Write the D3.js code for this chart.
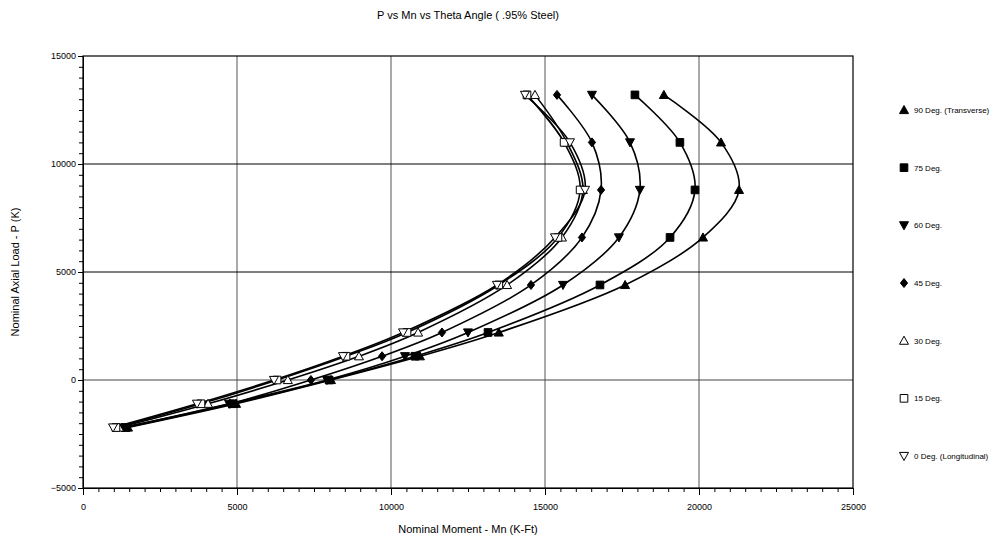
<!DOCTYPE html>
<html><head><meta charset="utf-8">
<script src="https://cdn.jsdelivr.net/npm/d3@7"></script>
<style>
body{margin:0;background:#fff;}
svg{display:block;}
text{font-family:"Liberation Sans Narrow","Liberation Sans",Arial,sans-serif;fill:#000;}
</style></head><body>
<svg id="c" width="999" height="537"></svg>
<script>
const title = "P vs Mn vs Theta Angle ( .95% Steel)";
const xLabel = "Nominal Moment - Mn (K-Ft)";
const yLabel = "Nominal Axial Load - P (K)";
const xTicks = [0, 5000, 10000, 15000, 20000, 25000];
const yTicks = [-5000, 0, 5000, 10000, 15000];
// axial load levels (K), shared by every series
const loads = [13200, 11000, 8800, 6600, 4400, 2200, 1100, 0, -1100, -2200];
// nominal moment (K-Ft) at each load level
const mn90 = [18860, 20715, 21300, 20130, 17600, 13500, 10940, 8050, 4970, 1460];
const mn75 = [17920, 19380, 19870, 19060, 16785, 13150, 10780, 7990, 4870, 1400];
const mn60 = [16525, 17760, 18080, 17400, 15585, 12500, 10455, 7920, 4740, 1330];
const mn45 = [15390, 16525, 16820, 16200, 14545, 11655, 9710, 7400, 4770, 1270];
const mn30 = [14675, 15710, 16230, 15550, 13770, 10880, 8960, 6650, 4060, 1170];
const mn15 = [14415, 15620, 16140, 15420, 13500, 10520, 8540, 6300, 3830, 1070];
const mn0  = [14350, 15810, 16300, 15325, 13440, 10390, 8440, 6200, 3700, 975];
const seriesNames = ["90 Deg. (Transverse)", "75 Deg.", "60 Deg.", "45 Deg.", "30 Deg.", "15 Deg.", "0 Deg. (Longitudinal)"];
const seriesData = [mn90, mn75, mn60, mn45, mn30, mn15, mn0];
const markerKinds = ["triUp", "square", "triDown", "diamond", "triUp", "square", "triDown"];
const markerFilled = [true, true, true, true, false, false, false];

const svg = d3.select("#c");
const L = 83, R = 853, T = 56, B = 488;
const x = d3.scaleLinear().domain([0, 25000]).range([L, R]);
const y = d3.scaleLinear().domain([-5000, 15000]).range([B, T]);

// grid lines
const g = svg.append("g");
[5000, 10000, 15000, 20000].forEach(v => {
  g.append("line").attr("x1", x(v)).attr("x2", x(v)).attr("y1", T).attr("y2", B)
   .attr("stroke", "#555").attr("stroke-width", 1);
});
[0, 5000, 10000].forEach(v => {
  g.append("line").attr("x1", L).attr("x2", R).attr("y1", y(v)).attr("y2", y(v))
   .attr("stroke", v === 0 ? "#444" : "#000").attr("stroke-width", 1);
});
// frame
svg.append("rect").attr("x", L).attr("y", T).attr("width", R - L).attr("height", B - T)
  .attr("fill", "none").attr("stroke", "#000").attr("stroke-width", 1.2);

// axes
const xMinor = d3.range(0, 25001, 500);
const yMinor = d3.range(-5000, 15001, 500);
const xAxisMinor = d3.axisBottom(x).tickValues(xMinor).tickSize(4).tickFormat("");
const xAxis = d3.axisBottom(x).tickValues(xTicks).tickSize(7).tickPadding(4).tickFormat(d3.format("d"));
const yAxisMinor = d3.axisLeft(y).tickValues(yMinor).tickSize(4).tickFormat("");
const yAxis = d3.axisLeft(y).tickValues(yTicks).tickSize(5).tickPadding(2).tickFormat(d3.format("d"));
function styleAxis(sel) {
  sel.select(".domain").attr("stroke", "#000");
  sel.selectAll("line").attr("stroke", "#000");
  sel.selectAll("text").style("font-size", "9px").attr("fill", "#000");
}
svg.append("g").attr("transform", `translate(0,${B})`).call(xAxisMinor).call(styleAxis);
svg.append("g").attr("transform", `translate(0,${B})`).call(xAxis).call(styleAxis)
  .selectAll("text").attr("dy", "1.2em");
svg.append("g").attr("transform", `translate(${L},0)`).call(yAxisMinor).call(styleAxis);
svg.append("g").attr("transform", `translate(${L},0)`).call(yAxis).call(styleAxis);

// titles
svg.append("text").attr("x", 468).attr("y", 19).attr("text-anchor", "middle")
  .style("font-family", "'Liberation Sans',Arial,sans-serif").style("font-size", "11px").text(title);
svg.append("text").attr("x", 468).attr("y", 533).attr("text-anchor", "middle")
  .style("font-family", "'Liberation Sans',Arial,sans-serif").style("font-size", "11px").text(xLabel);
svg.append("text").attr("transform", "translate(19,272) rotate(-90)").attr("text-anchor", "middle")
  .style("font-family", "'Liberation Sans',Arial,sans-serif").style("font-size", "11px").text(yLabel);

// marker paths
function markerPath(kind, s) {
  const h = s / 2;
  if (kind === "triUp") return `M0,${-h}L${h},${h * 0.8}L${-h},${h * 0.8}Z`;
  if (kind === "triDown") return `M0,${h}L${h},${-h * 0.8}L${-h},${-h * 0.8}Z`;
  if (kind === "square") return `M${-h * 0.85},${-h * 0.85}h${h * 1.7}v${h * 1.7}h${-h * 1.7}Z`;
  if (kind === "diamond") return `M0,${-h}L${h * 0.8},0L0,${h}L${-h * 0.8},0Z`;
}

const line = d3.line().x(d => x(d[0])).y(d => y(d[1])).curve(d3.curveCatmullRom.alpha(0.5));
const plot = svg.append("g");
seriesData.forEach((vals, i) => {
  const pts = vals.map((v, j) => [v, loads[j]]);
  plot.append("path").attr("d", line(pts)).attr("fill", "none")
    .attr("stroke", "#000").attr("stroke-width", 1.6);
});
seriesData.forEach((vals, i) => {
  vals.forEach((v, j) => {
    plot.append("path").attr("d", markerPath(markerKinds[i], 9))
      .attr("transform", `translate(${x(v)},${y(loads[j])})`)
      .attr("fill", markerFilled[i] ? "#000" : "#fff").attr("stroke", "#000").attr("stroke-width", 1);
  });
});

// legend
const legY = d3.scalePoint().domain(seriesNames).range([110, 456]);
const leg = svg.append("g");
seriesNames.forEach((name, i) => {
  const yy = legY(name);
  leg.append("path").attr("d", markerPath(markerKinds[i], 9))
    .attr("transform", `translate(904,${yy})`)
    .attr("fill", markerFilled[i] ? "#000" : "#fff").attr("stroke", "#000").attr("stroke-width", 1);
  leg.append("text").attr("x", 914).attr("y", yy + 3).style("font-size", "8px").text(name);
});
</script>
</body></html>
